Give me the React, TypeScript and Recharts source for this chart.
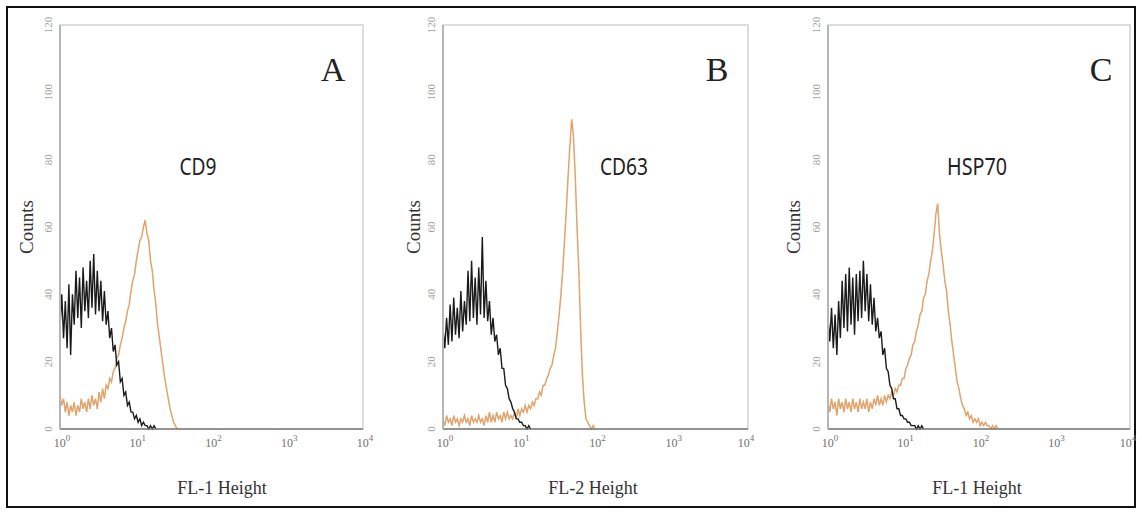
import React from "react";
import { LineChart, Line, XAxis, YAxis, ReferenceArea } from "recharts";

// histogram bin width in channels (1024 channels = 4 decades)
const BIN = 6;
const DECADE_CH = [0, 256, 512, 768, 1024];
const DECADE_EXP = ["0", "1", "2", "3", "4"];
const COUNT_TICKS = [0, 20, 40, 60, 80, 100, 120];

// Panel A – CD9 (FL-1)
const A_CONTROL = [
  30, 40, 27, 38, 24, 43, 22, 40, 31, 47, 33, 45, 30, 48, 35, 44, 33, 50, 36, 52,
  34, 47, 35, 44, 32, 41, 31, 35, 27, 30, 23, 25, 19, 20, 14, 15, 10, 11, 7, 8,
  5, 5, 3, 4, 2, 3, 1, 2, 1, 1, 0, 1, 0, 1, 0,
];
const A_STAINED = [
  10, 7, 9, 5, 8, 4, 7, 5, 8, 4, 7, 5, 9, 6, 8, 5, 9, 6, 10, 7,
  9, 6, 11, 8, 12, 9, 13, 12, 15, 14, 17, 18, 21, 22, 25, 27, 30, 32, 35, 37,
  41, 44, 46, 50, 53, 56, 57, 60, 62, 58, 56, 50, 47, 41, 37, 31, 27, 23, 19, 15,
  12, 9, 6, 4, 2, 1, 0, 0,
];

// Panel B – CD63 (FL-2)
const B_CONTROL = [
  30, 24, 33, 25, 37, 26, 39, 28, 36, 27, 41, 29, 38, 31, 47, 32, 50, 33, 45, 31,
  48, 34, 57, 33, 44, 32, 38, 28, 33, 26, 28, 22, 24, 18, 18, 13, 12, 9, 8, 6,
  5, 3, 3, 2, 2, 1, 1, 0, 1, 0,
];
const B_STAINED = [
  3, 1, 4, 2, 3, 1, 4, 2, 3, 1, 3, 2, 4, 2, 3, 1, 4, 2, 3, 2,
  4, 2, 3, 1, 4, 2, 5, 2, 4, 2, 5, 3, 4, 2, 5, 3, 5, 3, 4, 3,
  5, 3, 6, 4, 6, 5, 7, 5, 7, 6, 8, 7, 9, 9, 11, 10, 13, 13, 15, 16,
  18, 19, 22, 24, 29, 34, 40, 47, 56, 65, 75, 84, 92, 87, 75, 60, 47, 30, 16, 8,
  3, 2, 1, 0, 1, 0,
];

// Panel C – HSP70 (FL-1)
const C_CONTROL = [
  33, 26, 36, 24, 34, 22, 38, 27, 44, 30, 46, 29, 48, 31, 45, 28, 46, 32, 47, 33,
  50, 35, 46, 32, 43, 31, 39, 29, 33, 27, 29, 22, 24, 18, 17, 13, 12, 9, 9, 6,
  6, 4, 4, 3, 3, 2, 2, 1, 1, 1, 0, 1, 0, 1, 0,
];
const C_STAINED = [
  8, 5, 9, 6, 8, 4, 9, 6, 8, 5, 9, 6, 8, 5, 9, 6, 8, 5, 9, 6,
  8, 6, 9, 5, 8, 6, 9, 7, 10, 7, 9, 7, 10, 8, 10, 9, 11, 10, 12, 11,
  13, 13, 15, 15, 18, 19, 21, 22, 25, 26, 29, 31, 34, 35, 39, 40, 44, 46, 50, 53,
  58, 64, 67, 58, 53, 49, 44, 41, 35, 31, 26, 22, 18, 14, 12, 9, 7, 6, 4, 5,
  3, 4, 2, 3, 2, 3, 1, 2, 1, 2, 1, 1, 0, 1, 0, 1, 0,
];

function rows(control: number[], stained: number[]) {
  const n = Math.max(control.length, stained.length);
  return Array.from({ length: n }, (_, i) => ({
    ch: i * BIN,
    control: control[i],
    stained: stained[i],
  }));
}

const PANELS = [
  {
    left: 0, width: 380, mLeft: 20, mRight: 17,
    letter: "A", letterX: 333, marker: "CD9", markerX: 198, markerW: 37,
    countsX: 33, xTitle: "FL-1 Height", xTitleX: 222,
    data: rows(A_CONTROL, A_STAINED),
  },
  {
    left: 380, width: 380, mLeft: 23, mRight: 12,
    letter: "B", letterX: 717, marker: "CD63", markerX: 624, markerW: 48,
    countsX: 420, xTitle: "FL-2 Height", xTitleX: 593,
    data: rows(B_CONTROL, B_STAINED),
  },
  {
    left: 760, width: 382, mLeft: 28, mRight: 12,
    letter: "C", letterX: 1101, marker: "HSP70", markerX: 977, markerW: 60,
    countsX: 800, xTitle: "FL-1 Height", xTitleX: 977,
    data: rows(C_CONTROL, C_STAINED),
  },
];

const SERIF = "'Liberation Serif', 'Times New Roman', serif";

function CountTick({ x, y, payload }: any) {
  const tx = x;
  return (
    <text
      x={tx} y={y} transform={`rotate(-90 ${tx} ${y})`}
      textAnchor="middle" fontSize={11} fill="#a0a0a0" fontFamily={SERIF}
    >
      {payload.value}
    </text>
  );
}

function DecadeTick({ x, y, payload }: any) {
  const idx = DECADE_CH.indexOf(payload.value);
  return (
    <text x={x + 2} y={y + 10} textAnchor="middle" fontSize={12} fill="#707070" fontFamily={SERIF}>
      10<tspan dy={-6} fontSize={9}>{DECADE_EXP[idx]}</tspan>
    </text>
  );
}

export default function App() {
  return (
    <div style={{ position: "absolute", left: 0, top: 0, width: 1142, height: 514, background: "#fff" }}>
      <div
        style={{
          position: "absolute", left: 6, top: 6, width: 1130, height: 502,
          border: "2px solid #111", boxSizing: "border-box",
        }}
      />
      {PANELS.map((p) => (
        <div key={p.letter} style={{ position: "absolute", left: p.left, top: 0 }}>
          <LineChart
            width={p.width}
            height={514}
            data={p.data}
            margin={{ top: 25, right: p.mRight, bottom: 45, left: p.mLeft }}
            style={{ overflow: "visible" }}
          >
            <XAxis
              dataKey="ch" type="number" domain={[0, 1024]} ticks={DECADE_CH}
              allowDataOverflow height={40} tickLine={false}
              axisLine={{ stroke: "#7a7a7a", strokeWidth: 1.5 }}
              tick={<DecadeTick />}
            />
            <YAxis
              type="number" domain={[0, 120]} ticks={COUNT_TICKS} width={40}
              tickLine={false} axisLine={{ stroke: "#b5b5b5", strokeWidth: 2 }}
              tick={<CountTick />}
            />
            <ReferenceArea x1={0} x2={1024} y1={0} y2={120} fill="none" stroke="#d2d2d2" strokeWidth={1.5} />
            <Line
              dataKey="stained" type="linear" stroke="#e0a46c" strokeWidth={1.5}
              dot={false} isAnimationActive={false}
            />
            <Line
              dataKey="control" type="linear" stroke="#1a1a1a" strokeWidth={1.4}
              dot={false} isAnimationActive={false}
            />
          </LineChart>
        </div>
      ))}
      <svg
        width={1142} height={514}
        style={{ position: "absolute", left: 0, top: 0, pointerEvents: "none" }}
      >
        {PANELS.map((p) => (
          <g key={p.letter}>
            <text x={p.letterX} y={81} textAnchor="middle" fontSize={34} fill="#222" fontFamily={SERIF}>
              {p.letter}
            </text>
            <text
              x={p.markerX} y={175} textAnchor="middle" fontSize={24} fill="#222"
              fontFamily="'Liberation Sans Narrow', 'Noto Sans', sans-serif"
              textLength={p.markerW} lengthAdjust="spacingAndGlyphs"
            >
              {p.marker}
            </text>
            <text
              x={p.countsX} y={227} transform={`rotate(-90 ${p.countsX} 227)`}
              textAnchor="middle" fontSize={19} fill="#333" fontFamily={SERIF}
            >
              Counts
            </text>
            <text x={p.xTitleX} y={494} textAnchor="middle" fontSize={18} fill="#333" fontFamily={SERIF}>
              {p.xTitle}
            </text>
          </g>
        ))}
      </svg>
    </div>
  );
}
